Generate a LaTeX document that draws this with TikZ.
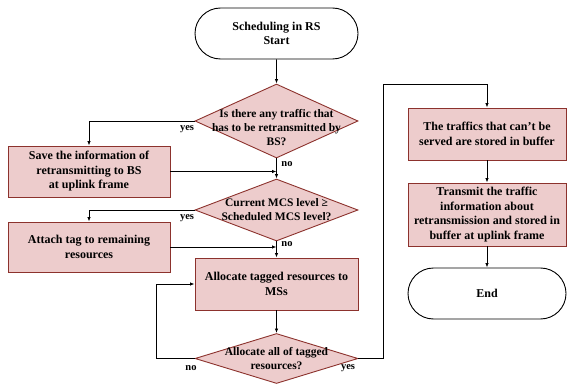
\documentclass[tikz,border=0pt]{standalone}
\usepackage{fontspec}
\setmainfont{Liberation Serif}
\usetikzlibrary{shapes.geometric,shapes.misc,arrows.meta}
\definecolor{boxfill}{RGB}{237,204,204}
\definecolor{boxline}{RGB}{140,50,45}
\begin{document}
\begin{tikzpicture}[x=1pt,y=-1pt, font=\bfseries\fontsize{12}{14.5}\selectfont,
 box/.style={draw=boxline, fill=boxfill, line width=0.9pt, align=center, inner sep=0pt},
 term/.style={draw=black, rounded rectangle, line width=0.9pt, align=center, inner sep=0pt},
 dia/.style={diamond, draw=boxline, fill=boxfill, line width=0.9pt, inner sep=0pt},
 txt/.style={align=center, inner sep=0pt, font=\bfseries\fontsize{11.5}{14}\selectfont},
 lbl/.style={font=\bfseries\fontsize{10.5}{11}\selectfont, inner sep=0pt},
 arr/.style={-{Latex[length=4.5pt,width=3.5pt]}, line width=0.8pt}]
\useasboundingbox (0,0) rectangle (568,385);

\node[term, minimum width=163pt, minimum height=51pt] (start) at (276.5,33.5) {Scheduling in RS\\Start};
\node[dia, minimum width=163pt, minimum height=74pt] (d1) at (276.5,121) {};
\node[txt] (t1) at (276.5,128) {Is there any traffic that\\has to be retransmitted by\\BS?};
\node[box, minimum width=162pt, minimum height=51pt] (b1) at (89,171.5) {Save the information of\\retransmitting to BS\\at uplink frame};
\node[dia, minimum width=163pt, minimum height=62pt] (d2) at (276.5,210) {};
\node[txt] (t2) at (276.5,210) {Current MCS level ≥\\Scheduled MCS level?};
\node[box, minimum width=162pt, minimum height=50pt] (b2) at (89,247) {Attach tag to remaining\\resources};
\node[box, minimum width=163pt, minimum height=52pt] (b3) at (276.5,284) {Allocate tagged resources to\\MSs};
\node[dia, minimum width=163pt, minimum height=50pt] (d3) at (276.5,358.5) {};
\node[txt] (t3) at (276.5,359) {Allocate all of tagged\\resources?};
\node[box, minimum width=158pt, minimum height=52pt] (b4) at (487,134) {The traffics that can’t be\\served are stored in buffer};
\node[box, minimum width=158pt, minimum height=63pt] (b5) at (487,214.5) {Transmit the traffic\\information about\\retransmission and stored in\\buffer at uplink frame};
\node[term, minimum width=158pt, minimum height=51pt] (end) at (487,293.5) {End};

\coordinate (cr) at (383,84);

\draw[arr] (start) -- (d1);
\draw[arr] (d1.west) -| (b1.north);
\draw[arr] (d1.south) -- (d2.north);
\draw[arr] (b1.east) -- (b1.east -| d1.south);
\draw[arr] (d2.west) -| (b2.north);
\draw[arr] (b2.east) -- (b2.east -| d2.south);
\draw[arr] (d2.south) -- (b3.north);
\draw[arr] (b3.south) -- (d3.north);
\draw[arr] (d3.west) -| ([xshift=-38pt]b3.west) -- (b3.west);
\draw[arr] (d3.east) -| (cr) -| (b4.north);
\draw[arr] (b4) -- (b5);
\draw[arr] (b5) -- (end);

\node[lbl] (l1) at (187,129) {yes};
\node[lbl] (l2) at (287,164) {no};
\node[lbl] (l3) at (187,218) {yes};
\node[lbl] (l4) at (287,244) {no};
\node[lbl] (l5) at (191,368) {no};
\node[lbl] (l6) at (348,368) {yes};
\end{tikzpicture}
\end{document}
